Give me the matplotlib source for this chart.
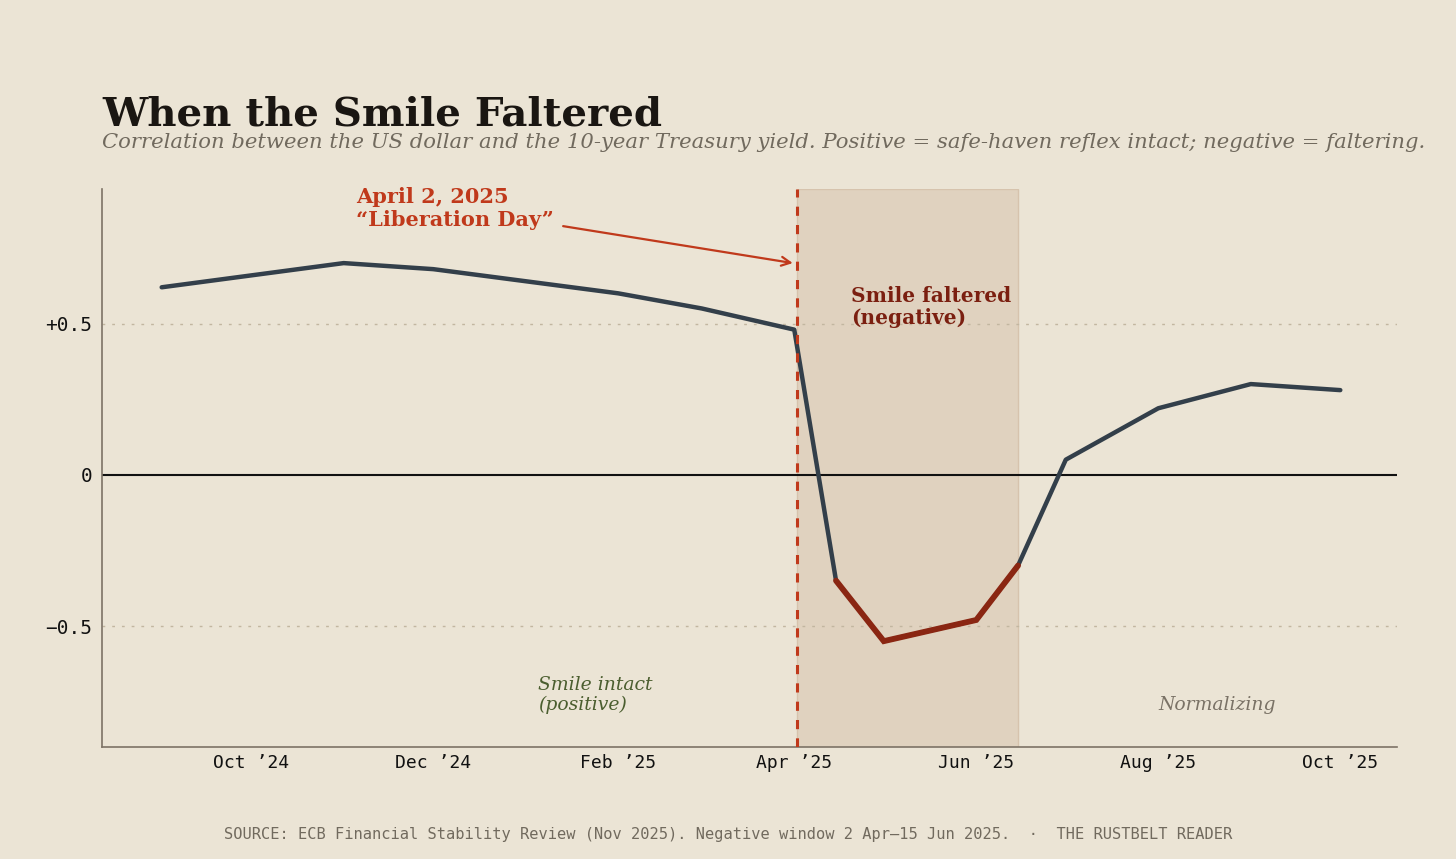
import numpy as np
import pandas as pd
import matplotlib
matplotlib.use("Agg")
import matplotlib.pyplot as plt
import matplotlib.dates as mdates

# data
dates = pd.to_datetime(["2024-09-01", "2024-11-01", "2024-12-01", "2025-02-01", "2025-03-01",
                        "2025-04-01", "2025-04-15", "2025-05-01", "2025-06-01", "2025-06-15",
                        "2025-07-01", "2025-08-01", "2025-09-01", "2025-10-01"])
corr = [0.62, 0.70, 0.68, 0.60, 0.55, 0.48, -0.35, -0.55, -0.48, -0.30, 0.05, 0.22, 0.30, 0.28]
neg_idx = [6, 7, 8, 9]   # points inside the negative window
tick_dates = pd.to_datetime(["2024-10-01", "2024-12-01", "2025-02-01", "2025-04-01",
                             "2025-06-01", "2025-08-01", "2025-10-01"])
tick_labels = ["Oct \u201924", "Dec \u201924", "Feb \u201925", "Apr \u201925",
               "Jun \u201925", "Aug \u201925", "Oct \u201925"]
lib_day = pd.Timestamp("2025-04-02")
win_end = pd.Timestamp("2025-06-15")

bg = "#ebe4d5"
dark = "#333f4a"
red = "#8a2612"
orange = "#c0391b"

fig = plt.figure(figsize=(14.56, 8.59), dpi=100, facecolor=bg)
ax = fig.add_axes([102/1456, 1 - 747/859, (1397-102)/1456, (747-189)/859])
ax.set_facecolor(bg)

# shaded negative window + event line
ax.axvspan(lib_day, win_end, color="#e0d2bf", ec="#d6c3ad", lw=1, zorder=1)
ax.axvline(lib_day, color=orange, ls=(0, (3, 3)), lw=2.2, zorder=4)

# grid and zero line (drawn over the shading, like the original)
for yv in [0.5, -0.5]:
    ax.axhline(yv, color="#c2b6a0", ls=(0, (2, 5)), lw=1, zorder=1.5)
ax.axhline(0, color="#111111", lw=1.5, zorder=2)

# the series
ax.plot(dates, corr, color=dark, lw=3.2, solid_capstyle="round", zorder=3)
ax.plot(dates[neg_idx], [corr[i] for i in neg_idx], color=red, lw=4.2,
        solid_capstyle="round", solid_joinstyle="miter", zorder=3.5)

ax.set_xlim(pd.Timestamp("2024-08-12"), pd.Timestamp("2025-10-20"))
ax.set_ylim(-0.9, 0.945)
ax.set_xticks(tick_dates)
ax.set_xticklabels(tick_labels, family="DejaVu Sans Mono", fontsize=13)
ax.set_yticks([0.5, 0, -0.5])
ax.set_yticklabels(["+0.5", "0", "\u22120.5"], family="DejaVu Sans Mono", fontsize=14)
ax.tick_params(axis="x", length=0, pad=5, colors="#111111")
ax.tick_params(axis="y", length=0, pad=7, colors="#111111")
for s in ["top", "right"]:
    ax.spines[s].set_visible(False)
for s in ["left", "bottom"]:
    ax.spines[s].set_color("#7d7366")
    ax.spines[s].set_linewidth(1.2)

# annotations
ax.annotate("April 2, 2025\n\u201cLiberation Day\u201d", xy=(mdates.date2num(lib_day) - 1.5, 0.70),
            xytext=(pd.Timestamp("2024-11-05"), 0.88), textcoords="data",
            fontsize=15, fontweight="bold", family="DejaVu Serif", color=orange,
            linespacing=1.15, ha="left", va="center",
            arrowprops=dict(arrowstyle="->", color=orange, lw=1.6,
                            shrinkA=5, shrinkB=0, mutation_scale=16))
ax.text(pd.Timestamp("2025-04-20"), 0.625, "Smile faltered\n(negative)", fontsize=14.5,
        fontweight="bold", family="DejaVu Serif", color="#7b1f10", va="top", linespacing=1.15)
ax.text(pd.Timestamp("2025-01-05"), -0.665, "Smile intact\n(positive)", fontsize=13.5,
        style="italic", family="DejaVu Serif", color="#4b5e2f", va="top", linespacing=1.12)
ax.text(pd.Timestamp("2025-08-01"), -0.76, "Normalizing", fontsize=13.5,
        style="italic", family="DejaVu Serif", color="#7a7266", va="center")

# title, subtitle, footer
fig.text(102/1456, 1 - 115/859, "When the Smile Faltered", fontsize=29.1, fontweight="bold",
         family="DejaVu Serif", color="#1a1612", va="center")
fig.text(102/1456, 1 - 143/859, "Correlation between the US dollar and the 10-year Treasury yield. "
         "Positive = safe-haven reflex intact; negative = faltering.",
         fontsize=15.2, style="italic", family="DejaVu Serif", color="#716a5e", va="center")
fig.text(0.5, 1 - 835/859, "SOURCE: ECB Financial Stability Review (Nov 2025). Negative window "
         "2 Apr\u201315 Jun 2025.  \u00b7  THE RUSTBELT READER",
         fontsize=11.1, family="DejaVu Sans Mono", color="#716a5e", ha="center", va="center")

fig.savefig("out.png", dpi=100, facecolor=bg)
